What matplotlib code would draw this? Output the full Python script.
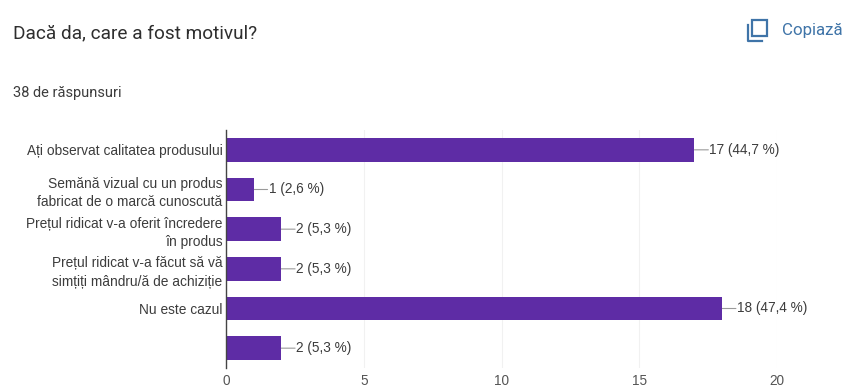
import matplotlib
matplotlib.use("Agg")
import matplotlib.pyplot as plt
from matplotlib.patches import Rectangle
from matplotlib.lines import Line2D

# -----------------------------
# DATA
# -----------------------------
categories = [
    "Ați observat calitatea produsului",
    "Semănă vizual cu un produs\nfabricat de o marcă cunoscută",
    "Prețul ridicat v-a oferit încredere\nîn produs",
    "Prețul ridicat v-a făcut să vă\nsimțiți mândru/ă de achiziție",
    "Nu este cazul",
    "",
]
counts = [17, 1, 2, 2, 18, 2]
percents = ["44,7", "2,6", "5,3", "5,3", "47,4", "5,3"]
x_ticks = [0, 5, 10, 15, 20]

W, H = 845, 388
PURPLE = "#5e2ca5"
TEXT = "#3c3c3c"
BLUE = "#3f74a8"

plt.rcParams["font.family"] = ["Liberation Sans", "DejaVu Sans"]

fig = plt.figure(figsize=(W / 100, H / 100), dpi=100)
ax = fig.add_axes([226 / W, 1 - 368 / H, (777 - 226) / W, (368 - 130) / H])

ypos = list(range(len(categories)))
ax.barh(ypos, counts, height=0.6, color=PURPLE, zorder=3)
ax.set_ylim(len(categories) - 0.5, -0.5)
ax.set_xlim(0, 20)

# value labels with a short leader line
for y, c, p in zip(ypos, counts, percents):
    ax.annotate("", xy=(c, y), xytext=(14, 0), textcoords="offset pixels",
                arrowprops=dict(arrowstyle="-", color="#9a9a9a", lw=0.8,
                                shrinkA=0, shrinkB=0), zorder=2)
    ax.annotate(f"{c} ({p} %)", xy=(c, y), xytext=(15, 0), textcoords="offset pixels",
                va="center", ha="left", fontsize=9.8, color=TEXT, zorder=4)

for s in ["top", "right", "bottom"]:
    ax.spines[s].set_visible(False)
ax.spines["left"].set_color("#444444")
ax.spines["left"].set_linewidth(1.0)
ax.spines["left"].set_zorder(5)

ax.set_xticks(x_ticks)
ax.set_xticklabels([str(t) for t in x_ticks], fontsize=9.8, color="#555555")
ax.tick_params(axis="x", length=0, pad=4.5)
ax.set_yticks(ypos)
ax.set_yticklabels(categories, fontsize=9.95, color=TEXT, linespacing=1.4)
ax.tick_params(axis="y", length=0, pad=2.5)
ax.grid(axis="x", color="#f1f1f1", lw=0.8, zorder=0)
ax.set_axisbelow(True)

# -----------------------------
# HEADER
# -----------------------------
fig.text(13 / W, 1 - 33 / H, "Dacă da, care a fost motivul?", fontsize=13.7,
         family="Roboto", color="#2e2e2e", va="center", ha="left")
fig.text(13 / W, 1 - 93 / H, "38 de răspunsuri", fontsize=10.5,
         family="Roboto", color="#3c3c3c", va="center", ha="left")
fig.text(782 / W, 1 - 31 / H, "Copiază", fontsize=12.2,
         family="Roboto", color=BLUE, va="center", ha="left")

# copy icon
fig.add_artist(Rectangle((752 / W, 1 - 36 / H), 15 / W, 16 / H, fill=False,
                         edgecolor=BLUE, lw=1.6, transform=fig.transFigure))
fig.add_artist(Line2D([748 / W, 748 / W, 762 / W], [1 - 25 / H, 1 - 41 / H, 1 - 41 / H],
                      color=BLUE, lw=1.6, transform=fig.transFigure))

fig.savefig("out.png", dpi=100)
